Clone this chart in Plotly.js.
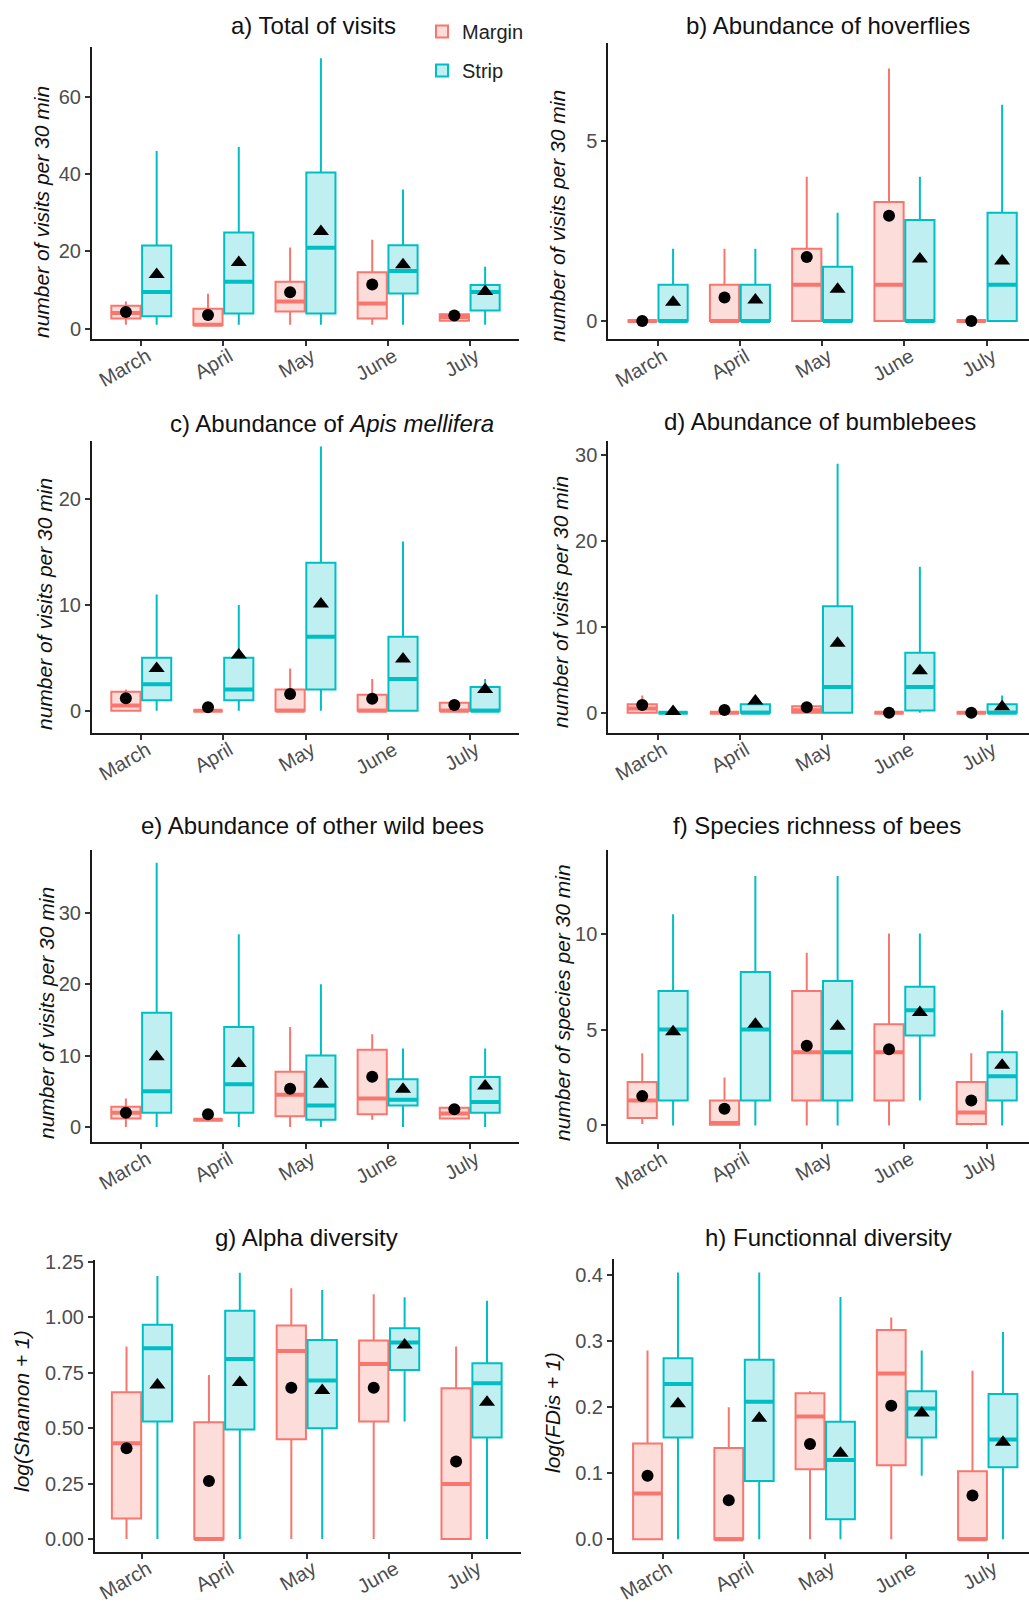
<!DOCTYPE html>
<html>
<head>
<meta charset="utf-8">
<script src="https://cdn.plot.ly/plotly-3.0.1.min.js"></script>
<style>html,body{margin:0;padding:0;background:#fff}#chart{width:1029px;height:1602px}</style>
</head>
<body>
<div id="chart"></div>
<script>
// ---------- DATA ----------
const months = ['March', 'April', 'May', 'June', 'July'];
const groups = ['Margin', 'Strip'];

// a) Total of visits
const aMargin = {min:[1,1,1,1,2], q1:[2.6,0.9,4.4,2.6,2.0], med:[4,1,7,6.5,3], q3:[5.9,5.1,12.1,14.6,3.7], max:[7,9,21,23,4], mean:[4.3,3.5,9.4,11.4,3.4]};
const aStrip  = {min:[1,1,1,1,1], q1:[3.2,3.9,3.9,9.1,4.7], med:[9.5,12.1,20.9,14.9,9.5], q3:[21.5,24.9,40.4,21.6,11.3], max:[46,47,70,36,16], mean:[14.0,17.1,25.1,16.5,9.6]};
// b) Abundance of hoverflies
const bMargin = {min:[0,0,0,0,0], q1:[0,0,0,0,0], med:[0,0,1,1,0], q3:[0,1,2,3.3,0], max:[0,2,4,7,0], mean:[0,0.65,1.77,2.92,0]};
const bStrip  = {min:[0,0,0,0,0], q1:[0,0,0,0,0], med:[0,0,0,0,1], q3:[1,1,1.5,2.8,3], max:[2,2,3,4,6], mean:[0.52,0.58,0.88,1.72,1.66]};
// c) Abundance of Apis mellifera
const cMargin = {min:[0,0,0,0,0], q1:[0,0,0,0,0], med:[0.5,0,0,0,0], q3:[1.8,0,2,1.5,0.75], max:[2,0,4,3,1], mean:[1.17,0.32,1.58,1.14,0.54]};
const cStrip  = {min:[0,0,0,0,0], q1:[1,1,2,0,0], med:[2.5,2,7,3,0], q3:[5,5,14,7,2.25], max:[11,10,25,16,3], mean:[4.0,5.27,10.1,4.9,2.0]};
// d) Abundance of bumblebees
const dMargin = {min:[0,0,0,0,0], q1:[0,0,0,0,0], med:[0.5,0,0.3,0,0], q3:[1,0,0.75,0,0], max:[2,0,0.75,0,0], mean:[0.9,0.31,0.63,0,0]};
const dStrip  = {min:[0,0,0,0,0], q1:[0,0,0,0.25,0], med:[0,0,3,3,0], q3:[0,1,12.4,7,1], max:[0,1,29,17,2], mean:[0.15,1.36,8.1,4.9,0.7]};
// e) Abundance of other wild bees
const eMargin = {min:[0,1,0,1,1], q1:[1.2,1,1.5,1.8,1.2], med:[2,1,4.5,4,1.9], q3:[2.85,1,7.75,10.8,2.7], max:[4,1,14,13,2.7], mean:[2.0,1.78,5.37,7.04,2.5]};
const eStrip  = {min:[0,0,0,0,0], q1:[2,2,1,3,2], med:[5,6,3,3.8,3.5], q3:[16,14,10,6.7,7], max:[37,27,20,11,11], mean:[9.84,8.9,5.97,5.28,5.74]};
// f) Species richness of bees
const fMargin = {min:[0.08,0,0,0,0], q1:[0.39,0.04,1.3,1.3,0.08], med:[1.3,0.13,3.82,3.82,0.68], q3:[2.27,1.3,7,5.27,2.27], max:[3.76,2.5,9,10,3.76], mean:[1.53,0.87,4.15,3.97,1.3]};
const fStrip  = {min:[0,0,0,1.3,0], q1:[1.3,1.3,1.3,4.69,1.3], med:[5,5,3.82,6,2.56], q3:[7,8,7.52,7.23,3.82], max:[11,13,13,10,6], mean:[4.88,5.27,5.17,5.88,3.14]};
// g) Alpha diversity
const gMargin = {min:[0,0,0,0,0], q1:[0.093,0,0.449,0.529,0], med:[0.431,0,0.847,0.789,0.248], q3:[0.661,0.526,0.962,0.894,0.679], max:[0.867,0.739,1.13,1.103,0.867], mean:[0.409,0.261,0.682,0.682,0.349]};
const gStrip  = {min:[0,0,0,0.529,0], q1:[0.529,0.494,0.499,0.762,0.457], med:[0.859,0.811,0.714,0.885,0.702], q3:[0.965,1.028,0.897,0.95,0.792], max:[1.185,1.2,1.122,1.089,1.073], mean:[0.694,0.705,0.669,0.874,0.616]};
// h) Functionnal diversity
const hMargin = {min:[0,0,0,0,0], q1:[0,0,0.106,0.112,0], med:[0.069,0,0.186,0.251,0], q3:[0.145,0.138,0.221,0.317,0.103], max:[0.286,0.2,0.224,0.336,0.255], mean:[0.096,0.059,0.144,0.202,0.066]};
const hStrip  = {min:[0,0,0,0.096,0], q1:[0.154,0.088,0.03,0.154,0.109], med:[0.235,0.208,0.12,0.198,0.151], q3:[0.274,0.272,0.178,0.224,0.22], max:[0.404,0.404,0.367,0.286,0.314], mean:[0.205,0.183,0.13,0.191,0.147]};

const panelTitles = ['a) Total of visits', 'b) Abundance of hoverflies', 'c) Abundance of <i>Apis mellifera</i>',
  'd) Abundance of bumblebees', 'e) Abundance of other wild bees', 'f) Species richness of bees',
  'g) Alpha diversity', 'h) Functionnal diversity'];
const yTitles = ['number of visits per 30 min', 'number of visits per 30 min', 'number of visits per 30 min',
  'number of visits per 30 min', 'number of visits per 30 min', 'number of species per 30 min',
  'log(Shannon + 1)', 'log(FDis + 1)'];

// ---------- STYLE / LAYOUT ----------
const W = 1029, H = 1602;
const FONT = 'Liberation Sans, Arial, Helvetica, sans-serif';
const colors = {Margin: '#F8766D', Strip: '#00BFC4'};
const fills = {Margin: 'rgba(248,118,109,0.25)', Strip: 'rgba(0,191,196,0.25)'};
const symbols = {Margin: 'circle', Strip: 'triangle-up'};
const msize = {Margin: 12, Strip: 14};
const dodge = {Margin: -0.1875, Strip: 0.1875};
const BOXW = 0.355;

// pixel geometry of each panel: [left, right, top, bottom], x range, y range, dtick, format
const panels = [
  {px:[92,519,47,339],      xr:[0.4,5.6],   yr:[-2.7,72.9],   dt:20,   fmt:'',    data:[aMargin,aStrip], tt:[313,25],   yt:[42,212]},
  {px:[608.3,1029,43,339.3],xr:[0.4,5.514], yr:[-0.51,7.71],  dt:5,    fmt:'',    data:[bMargin,bStrip], tt:[828,25],   yt:[557,216]},
  {px:[92,519,440.7,732.7], xr:[0.4,5.6],   yr:[-2.08,25.54], dt:10,   fmt:'',    data:[cMargin,cStrip], tt:[332,424],  yt:[44,604]},
  {px:[608.3,1029,440.7,732.7],xr:[0.4,5.514],yr:[-2.33,31.7],dt:10,   fmt:'',    data:[dMargin,dStrip], tt:[820,422],  yt:[560,602]},
  {px:[92,519,850,1142],    xr:[0.4,5.6],   yr:[-2.1,38.78],  dt:10,   fmt:'',    data:[eMargin,eStrip], tt:[312,825],  yt:[46,1013]},
  {px:[608.3,1029,850,1142],xr:[0.4,5.514], yr:[-0.86,14.35], dt:5,    fmt:'',    data:[fMargin,fStrip], tt:[817,825],  yt:[562,1003]},
  {px:[95,521,1260,1551.7], xr:[0.43,5.6],  yr:[-0.057,1.257],dt:0.25, fmt:'.2f', data:[gMargin,gStrip], tt:[306,1237], yt:[21,1411]},
  {px:[614,1029,1259.3,1551.7],xr:[0.4,5.508],yr:[-0.019,0.424],dt:0.1,fmt:'.1f', data:[hMargin,hStrip], tt:[828,1237], yt:[552,1413]}
];

const monthPos = months.map((m, i) => i + 1);
const traces = [];
const layout = {
  width: W, height: H,
  margin: {l:0, r:0, t:0, b:0},
  paper_bgcolor: '#fff', plot_bgcolor: '#fff',
  boxmode: 'overlay',
  showlegend: true,
  legend: {x: 422/W, y: 1 - 12/H, xanchor: 'left', yanchor: 'top', font: {family: FONT, size: 20, color: '#222'},
           bgcolor: 'rgba(0,0,0,0)', tracegroupgap: 10, traceorder: 'grouped'},
  font: {family: FONT},
  annotations: []
};

panels.forEach((p, k) => {
  const n = k === 0 ? '' : String(k + 1);
  const xa = 'x' + n, ya = 'y' + n;
  const [l, r, t, b] = p.px;
  layout['xaxis' + n] = {
    domain: [l / W, Math.min(r / W, 1)], range: p.xr, anchor: ya,
    tickmode: 'array', tickvals: monthPos, ticktext: months, tickangle: -30,
    ticklabelstandoff: -9, ticklabelshift: 6,
    showline: true, linecolor: '#1a1a1a', linewidth: 2, mirror: false,
    ticks: 'outside', ticklen: 5, tickwidth: 2, tickcolor: '#333',
    showgrid: false, zeroline: false, fixedrange: true,
    tickfont: {family: FONT, size: 20, color: '#4D4D4D'}
  };
  layout['yaxis' + n] = {
    domain: [1 - b / H, 1 - t / H], range: p.yr, anchor: xa,
    dtick: p.dt, tick0: 0, tickformat: p.fmt,
    showline: true, linecolor: '#1a1a1a', linewidth: 2,
    ticks: 'outside', ticklen: 5, tickwidth: 2, tickcolor: '#333',
    showgrid: false, zeroline: false, fixedrange: true,
    tickfont: {family: FONT, size: 20, color: '#4D4D4D'}
  };
  groups.forEach((g, gi) => {
    const d = p.data[gi];
    const xs = monthPos.map(v => v + dodge[g]);
    traces.push({
      type: 'box', name: g, x: xs,
      q1: d.q1, median: d.med, q3: d.q3, lowerfence: d.min, upperfence: d.max,
      width: BOXW, whiskerwidth: 0, boxpoints: false,
      line: {color: colors[g], width: 2}, fillcolor: fills[g],
      xaxis: xa, yaxis: ya, legendgroup: g, showlegend: k === 0, hoverinfo: 'skip'
    });
    // thicker median bar (ggplot draws the median heavier than the box outline)
    traces.push({
      type: 'box', name: g + ' median', x: xs,
      q1: d.med, median: d.med, q3: d.med, lowerfence: d.med, upperfence: d.med,
      width: BOXW, whiskerwidth: 0, boxpoints: false,
      line: {color: colors[g], width: 4}, fillcolor: 'rgba(0,0,0,0)',
      xaxis: xa, yaxis: ya, legendgroup: g, showlegend: false, hoverinfo: 'skip'
    });
  });
  groups.forEach((g, gi) => {
    const d = p.data[gi];
    traces.push({
      type: 'scatter', mode: 'markers', name: g + ' mean',
      x: monthPos.map(v => v + dodge[g]), y: d.mean,
      marker: {symbol: symbols[g], size: msize[g], color: '#000'},
      xaxis: xa, yaxis: ya, legendgroup: g, showlegend: false, hoverinfo: 'skip', cliponaxis: false
    });
  });
  layout.annotations.push({
    text: panelTitles[k], xref: 'paper', yref: 'paper',
    x: p.tt[0] / W, y: 1 - p.tt[1] / H, xanchor: 'center', yanchor: 'middle',
    showarrow: false, font: {family: FONT, size: 24, color: '#111'}
  });
  layout.annotations.push({
    text: '<i>' + yTitles[k] + '</i>', xref: 'paper', yref: 'paper',
    x: p.yt[0] / W, y: 1 - p.yt[1] / H, xanchor: 'center', yanchor: 'middle', textangle: -90,
    showarrow: false, font: {family: FONT, size: 21, color: '#111'}
  });
});

Plotly.newPlot('chart', traces, layout, {staticPlot: true, displayModeBar: false});
</script>
</body>
</html>
